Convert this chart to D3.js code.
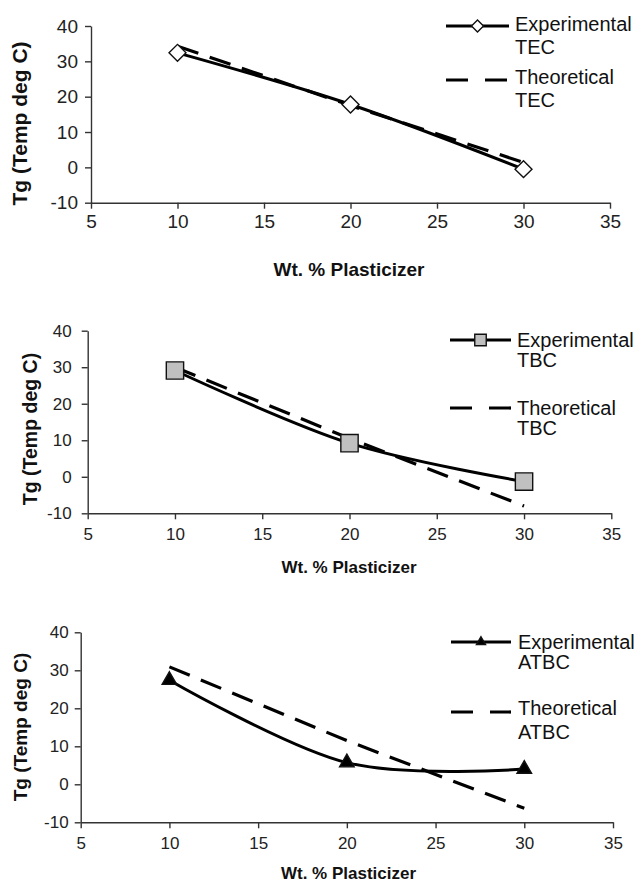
<!DOCTYPE html>
<html>
<head>
<meta charset="utf-8">
<script src="https://cdn.jsdelivr.net/npm/d3@7"></script>
<style>
	body { margin: 0; background: #fff; }
	svg { display: block; font-family: 'Liberation Sans', Arial, sans-serif; }
</style>
</head>
<body>
<svg id="chart" width="638" height="884"></svg>
<script>
	'use strict';
	// plasticizer levels (wt. %)
	var plasticizerLevels = [10, 20, 30];

	// Tg values
	var tecExperimental = [32.4, 17.8, -0.5];
	var tecTheoretical = [34.3, 17.5, 1.4];
	var tbcExperimental = [29.1, 9.2, -1.3];
	var tbcTheoretical = [30, 10.5, -8];
	var atbcExperimental = [27.4, 5.7, 4.0];
	var atbcTheoretical = [30.9, 11.5, -6.3];

	var xTicks = [5, 10, 15, 20, 25, 30, 35];
	var yTicks = [-10, 0, 10, 20, 30, 40];

	var svg = d3.select('#chart');

	function plainNumber(d) {
		return String(d); // keep the plain hyphen of the original
	}

	function markerPath(kind, big) {
		if (kind === 'diamond') {
			return d3.symbol().type(d3.symbolSquare).size(big ? 144 : 72)();
		}
		if (kind === 'square') {
			return d3.symbol().type(d3.symbolSquare).size(big ? 300 : 132)();
		}
		return d3.symbol().type(d3.symbolTriangle).size(big ? 92 : 36)();
	}

	function markerStyle(sel, kind) {
		sel.attr('stroke', '#111').attr('stroke-width', 1.4)
			.attr('fill', kind === 'diamond' ? '#fff' : (kind === 'square' ? '#c0c0c0' : '#000'))
			.attr('transform', function () {
				return d3.select(this).attr('transform') + (kind === 'diamond' ? ' rotate(45)' : '');
			});
	}

	function drawPanel(cfg) {
		var x = d3.scaleLinear().domain([5, 35]).range([cfg.left, cfg.right]);
		var y = d3.scaleLinear().domain([-10, 40]).range([cfg.bottom, cfg.top]);
		var g = svg.append('g');

		// axes
		var xAxis = g.append('g')
			.attr('transform', 'translate(0,' + cfg.bottom + ')')
			.call(d3.axisBottom(x).tickValues(xTicks).tickFormat(plainNumber)
				.tickSize(6).tickSizeOuter(0).tickPadding(cfg.xPad));
		var yAxis = g.append('g')
			.attr('transform', 'translate(' + cfg.left + ',0)')
			.call(d3.axisLeft(y).tickValues(yTicks).tickFormat(plainNumber)
				.tickSize(6).tickSizeOuter(0).tickPadding(cfg.yPad));
		[xAxis, yAxis].forEach(function (ax) {
			ax.select('.domain').attr('stroke', '#333').attr('stroke-width', 1.4);
			ax.selectAll('.tick line').attr('stroke', '#333').attr('stroke-width', 1.4);
			ax.selectAll('.tick text').attr('fill', '#222')
				.style('font-size', cfg.tickFont + 'px')
				.style('font-family', "'Liberation Sans', Arial, sans-serif");
		});

		var theo = plasticizerLevels.map(function (d, i) { return [d, cfg.theoretical[i]]; });
		var expt = plasticizerLevels.map(function (d, i) { return [d, cfg.experimental[i]]; });

		g.append('path')
			.datum(theo)
			.attr('fill', 'none')
			.attr('stroke', '#000')
			.attr('stroke-width', 3.2)
			.attr('stroke-dasharray', '22,12')
			.attr('d', d3.line()
				.x(function (d) { return x(d[0]); })
				.y(function (d) { return y(d[1]); }));

		g.append('path')
			.datum(expt)
			.attr('fill', 'none')
			.attr('stroke', '#000')
			.attr('stroke-width', 3)
			.attr('d', d3.line()
				.curve(d3.curveCardinal.tension(0))
				.x(function (d) { return x(d[0]); })
				.y(function (d) { return y(d[1]); }));

		g.selectAll('.pt')
			.data(expt)
			.enter().append('path')
			.attr('class', 'pt')
			.attr('d', markerPath(cfg.marker, true))
			.attr('transform', function (d) { return 'translate(' + x(d[0]) + ',' + y(d[1]) + ')'; })
			.call(markerStyle, cfg.marker);

		// axis titles
		g.append('text')
			.attr('x', cfg.xLabel[0]).attr('y', cfg.xLabel[1])
			.attr('dy', '0.35em')
			.attr('text-anchor', 'middle')
			.style('font-weight', 'bold')
			.style('font-size', cfg.xLabelFont + 'px')
			.attr('fill', '#111')
			.text('Wt. % Plasticizer');
		g.append('text')
			.attr('transform', 'translate(' + cfg.yLabel[0] + ',' + cfg.yLabel[1] + ') rotate(-90)')
			.attr('dy', '0.35em')
			.attr('text-anchor', 'middle')
			.style('font-weight', 'bold')
			.style('font-size', cfg.yLabelFont + 'px')
			.attr('fill', '#111')
			.text('Tg (Temp deg C)');

		// legend
		var lg = cfg.legend;
		g.append('line')
			.attr('x1', lg.x1).attr('x2', lg.x2).attr('y1', lg.expY).attr('y2', lg.expY)
			.attr('stroke', '#000').attr('stroke-width', 3);
		g.append('path')
			.attr('d', markerPath(cfg.marker, false))
			.attr('transform', 'translate(' + ((lg.x1 + lg.x2) / 2) + ',' + lg.expY + ')')
			.call(markerStyle, cfg.marker);
		g.append('line')
			.attr('x1', lg.x1).attr('x2', lg.x2).attr('y1', lg.theoY).attr('y2', lg.theoY)
			.attr('stroke', '#000').attr('stroke-width', 3.2)
			.attr('stroke-dasharray', '22,17');

		var texts = [['Experimental', lg.textY[0]], [cfg.name, lg.textY[1]],
			['Theoretical', lg.textY[2]], [cfg.name, lg.textY[3]]];
		g.selectAll('.lgtext')
			.data(texts)
			.enter().append('text')
			.attr('class', 'lgtext')
			.attr('x', lg.textX)
			.attr('y', function (d) { return d[1]; })
			.attr('dy', '0.35em')
			.style('font-size', '20px')
			.attr('fill', '#111')
			.text(function (d) { return d[0]; });
	}

	drawPanel({
		name: 'TEC', marker: 'diamond',
		experimental: tecExperimental, theoretical: tecTheoretical,
		left: 91, right: 610, top: 26, bottom: 202.7,
		tickFont: 19, xPad: 6, yPad: 7,
		xLabel: [349, 269], xLabelFont: 19,
		yLabel: [20, 123.5], yLabelFont: 21,
		legend: { x1: 446, x2: 509, expY: 26, theoY: 80, textX: 515, textY: [24, 46.7, 77.3, 100] }
	});

	drawPanel({
		name: 'TBC', marker: 'square',
		experimental: tbcExperimental, theoretical: tbcTheoretical,
		left: 87.7, right: 611.3, top: 330.7, bottom: 513.3,
		tickFont: 17, xPad: 9, yPad: 10,
		xLabel: [349, 566.7], xLabelFont: 17,
		yLabel: [30, 429], yLabelFont: 19.5,
		legend: { x1: 450, x2: 511, expY: 340, theoY: 408, textX: 517, textY: [340, 360, 408, 428] }
	});

	drawPanel({
		name: 'ATBC', marker: 'triangle',
		experimental: atbcExperimental, theoretical: atbcTheoretical,
		left: 80.7, right: 613, top: 632.3, bottom: 822.3,
		tickFont: 17, xPad: 9, yPad: 6,
		xLabel: [348.5, 873], xLabelFont: 17,
		yLabel: [20, 727], yLabelFont: 19,
		legend: { x1: 451, x2: 511, expY: 642, theoY: 712, textX: 518, textY: [641.7, 661.7, 708, 731.7] }
	});
</script>
</body>
</html>
